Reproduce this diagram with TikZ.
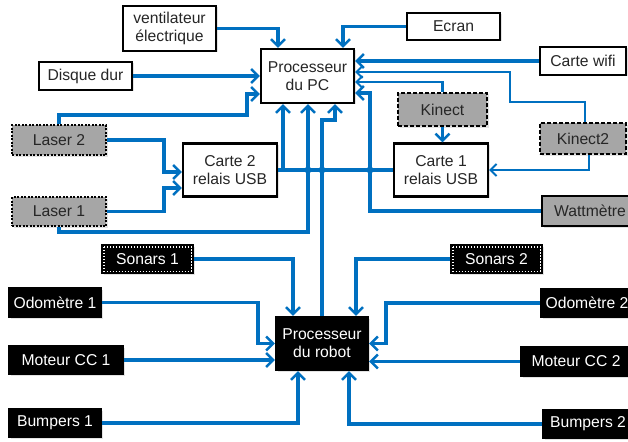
\documentclass[tikz,border=0pt]{standalone}
\usepackage{fontspec}
\setmainfont{Liberation Sans}
\usetikzlibrary{arrows.meta,calc,shadows}
\definecolor{cblue}{RGB}{0,112,192}
\definecolor{boxgray}{RGB}{166,166,166}
\definecolor{txt}{RGB}{38,38,38}
\begin{document}
\begin{tikzpicture}[x=1pt,y=-1pt,
  font=\fontsize{15.7}{18}\selectfont,
  base/.style={line width=2.3pt, align=center, inner sep=0pt,
    drop shadow={shadow xshift=1.5pt,shadow yshift=-1.5pt,fill=black!22}},
  wbox/.style={base, draw=black, fill=white, text=txt},
  gbox/.style={base, draw=black, fill=boxgray, text=txt},
  dotbox/.style={gbox, dash pattern=on 2pt off 1.5pt},
  dashbox/.style={gbox, dash pattern=on 4pt off 2pt},
  kbox/.style={base, draw=black, fill=black, text=white},
  arr/.style={draw=cblue, line width=3.6pt, -{Straight Barb[length=7pt,width=14pt,line width=2.4pt]}},
  tarr/.style={draw=cblue, line width=2.3pt, -{Straight Barb[length=6pt,width=12pt,line width=2pt]}},
  plain/.style={draw=cblue, line width=3.6pt},
  sonarin/.style={draw=white, line width=1.3pt, dash pattern=on 1.5pt off 1.5pt}
]
\useasboundingbox (0,0) rectangle (628,441);
\clip (0,0) rectangle (628,441);

% top boxes
\node[wbox, minimum width=93pt, minimum height=45pt] (vent) at (169.5,28.5) {ventilateur\\électrique};
\node[wbox, minimum width=93pt, minimum height=27pt] (ecran) at (453.5,26.5) {Ecran};
\node[wbox, minimum width=93pt, minimum height=54pt] (pc) at (307.5,76) {Processeur\\du PC};
\node[wbox, minimum width=93pt, minimum height=28pt] (disque) at (85.5,76) {Disque dur};
\node[wbox, minimum width=86pt, minimum height=28pt] (wifi) at (583,61) {Carte wifi};
\node[dotbox, minimum width=94pt, minimum height=30pt] (laser2) at (59,140) {Laser 2};
\node[dotbox, minimum width=94pt, minimum height=29pt] (laser1) at (59,211.5) {Laser 1};
\node[wbox, minimum width=94pt, minimum height=53pt] (carte2) at (230,170) {Carte 2\\relais USB};
\node[dashbox, minimum width=89pt, minimum height=33pt] (kinect) at (442.5,109.5) {Kinect};
\node[wbox, minimum width=94pt, minimum height=53pt] (carte1) at (441,170) {Carte 1\\relais USB};
\node[dashbox, minimum width=86pt, minimum height=31pt] (kinect2) at (583,138.5) {Kinect2};
\node[gbox, minimum width=96pt, minimum height=30pt] (watt) at (590,211) {Wattmètre};

% bottom boxes
\node[kbox, minimum width=91pt, minimum height=28pt] (sonars1) at (147.5,259) {Sonars 1};
\node[kbox, minimum width=91pt, minimum height=28pt] (sonars2) at (496.5,259) {Sonars 2};
\draw[sonarin] ([shift={(3pt,-3pt)}]sonars1.north west) rectangle ([shift={(-3pt,3pt)}]sonars1.south east);
\draw[sonarin] ([shift={(3pt,-3pt)}]sonars2.north west) rectangle ([shift={(-3pt,3pt)}]sonars2.south east);
\node[kbox, minimum width=92pt, minimum height=29pt] (odo1) at (55,302.5) {Odomètre 1};
\node[kbox, minimum width=114pt, minimum height=28pt] (moteur1) at (66,360) {Moteur CC 1};
\node[kbox, minimum width=92pt, minimum height=28pt] (bump1) at (55,423) {Bumpers 1};
\node[kbox, minimum width=92pt, minimum height=53pt] (robot) at (322,343.5) {Processeur\\du robot};
\node[kbox, minimum width=92pt, minimum height=28pt] (odo2) at (587,303) {Odomètre 2};
\node[kbox, minimum width=110pt, minimum height=29pt] (moteur2) at (576,361.5) {Moteur CC 2};
\node[kbox, minimum width=90pt, minimum height=28pt] (bump2) at (588,424) {Bumpers 2};

% junction / bend coordinates
\coordinate (l2a) at (247,115);
\coordinate (bx) at (283,170);
\coordinate (l1c) at (308,232);
\coordinate (j1) at (308,170);
\coordinate (j2) at (322,170);
\coordinate (j3) at (370,170);
\coordinate (wa) at (370,93);
\coordinate (k2a) at (510,102);

% top connectors
\draw[arr] (vent.east) -| ([xshift=-29.5pt]pc.north);
\draw[arr] (ecran.west) -| ([xshift=35.5pt]pc.north);
\draw[arr] (disque.east) -- (pc.west);
\draw[arr] (laser2.north) |- (l2a) |- ($(pc.west)+(0,18)$);
\draw[arr] (laser2.east) -| (164,172) -- ($(carte2.west)+(0,2)$);
\draw[arr] (laser1.east) -| (164,188) -- ($(carte2.west)+(0,18)$);
\draw[plain] (carte2.east) -- (carte1.west);
\draw[arr] (bx) -- (bx |- pc.south);
\draw[arr] (laser1.south) |- (l1c) -- (l1c |- pc.south);
\draw[arr] (robot.north) -- (robot.north |- 0,120) -| ([xshift=27.5pt]pc.south);
\draw[arr] (watt.west) -| (wa) -- (wa -| pc.east);
\draw[arr] (wifi.west) -- (wifi.west -| pc.east);
\draw[tarr] ($(kinect2.north)+(2,0)$) |- (k2a) |- ($(pc.east)+(0,-4)$);
\draw[tarr] (kinect.north) |- ($(pc.east)+(0,6)$);
\draw[arr] (kinect.south) -- (kinect.south |- carte1.north);
\draw[tarr] ($(kinect2.south)+(6,0)$) |- (carte1.east);
\foreach \j in {j1,j2,j3} \fill[cblue] (\j) circle (3.5pt);

% bottom connectors
\draw[arr] (sonars1.east) -| ([xshift=-29pt]robot.north);
\draw[arr] (sonars2.west) -| ([xshift=34pt]robot.north);
\draw[arr] (odo1.east) -| (258,343.5) -- (robot.west);
\draw[arr] (moteur1.east) -- ($(robot.west)+(0,16.5)$);
\draw[arr] (bump1.east) -| ([xshift=-24pt]robot.south);
\draw[arr] (odo2.west) -| (386,343.5) -- (robot.east);
\draw[arr] (moteur2.west) -- (moteur2.west -| robot.east);
\draw[arr] (bump2.west) -| ([xshift=27pt]robot.south);
\end{tikzpicture}
\end{document}
